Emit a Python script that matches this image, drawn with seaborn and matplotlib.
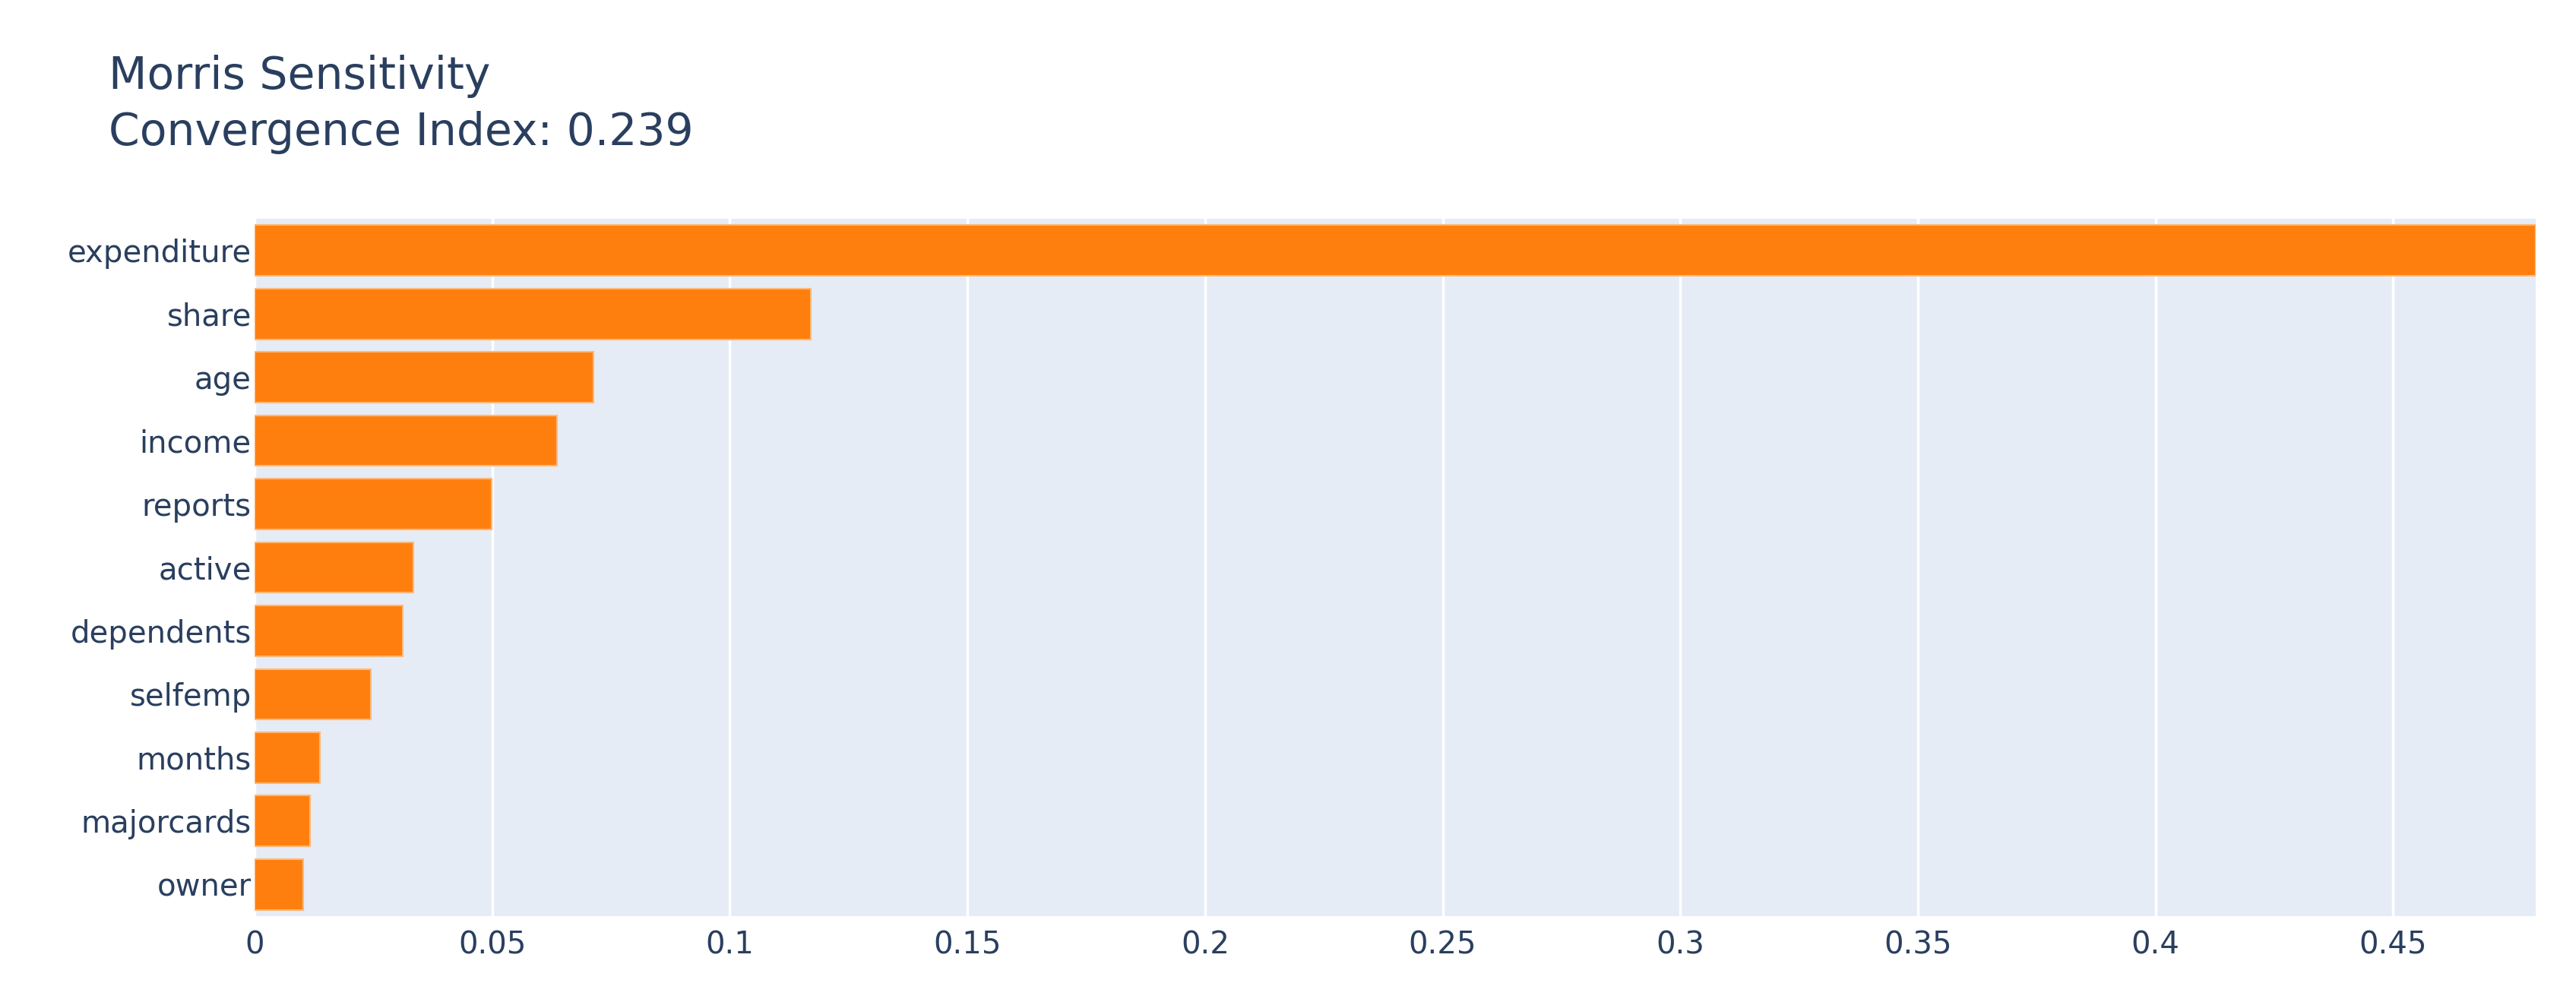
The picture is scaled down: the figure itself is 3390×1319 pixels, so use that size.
import numpy as np
import pandas as pd
import seaborn as sns
from matplotlib import pyplot as plt

factors = ["expenditure", "share", "age", "income", "reports", "active",
           "dependents", "selfemp", "months", "majorcards", "owner"]
sensitivity = [0.48, 0.1171, 0.0713, 0.0637, 0.0499, 0.0334,
               0.0312, 0.0245, 0.0138, 0.0116, 0.0103]
xticks = [0, 0.05, 0.1, 0.15, 0.2, 0.25, 0.3, 0.35, 0.4, 0.45]
xtick_labels = ["0", "0.05", "0.1", "0.15", "0.2", "0.25", "0.3", "0.35", "0.4", "0.45"]

df = pd.DataFrame({"factor": factors, "mu_star": sensitivity})

sns.set_style("white")
plt.rcParams["font.family"] = ["DejaVu Sans"]
txt = "#2a3f5f"

fig = plt.figure(figsize=(33.9, 13.19), dpi=100)
ax = fig.add_axes([335 / 3390, 1 - 1206 / 1319, (3337 - 335) / 3390, (1206 - 288) / 1319])
ax.set_facecolor("#E5ECF6")

sns.barplot(data=df, x="mu_star", y="factor", orient="h", color="#FF7F0E",
            saturation=1, width=0.8, edgecolor="#FFB878", linewidth=1.5, ax=ax, zorder=3)

ax.set_xlim(0, 0.48)
ax.set_xticks(xticks)
ax.set_xticklabels(xtick_labels)
ax.grid(axis="x", color="white", linewidth=2.5, zorder=0)
ax.set_axisbelow(True)
for s in ax.spines.values():
    s.set_visible(False)
ax.tick_params(axis="x", length=0, pad=13, labelsize=29, labelcolor=txt)
ax.tick_params(axis="y", length=0, pad=3, labelsize=29, labelcolor=txt)
ax.set_xlabel("")
ax.set_ylabel("")

fig.text(143 / 3390, 1 - 117 / 1319, "Morris Sensitivity", fontsize=42, color=txt, va="baseline", ha="left")
fig.text(143 / 3390, 1 - 191 / 1319, "Convergence Index: 0.239", fontsize=42, color=txt, va="baseline", ha="left")

fig.savefig("out.png", dpi=100)
